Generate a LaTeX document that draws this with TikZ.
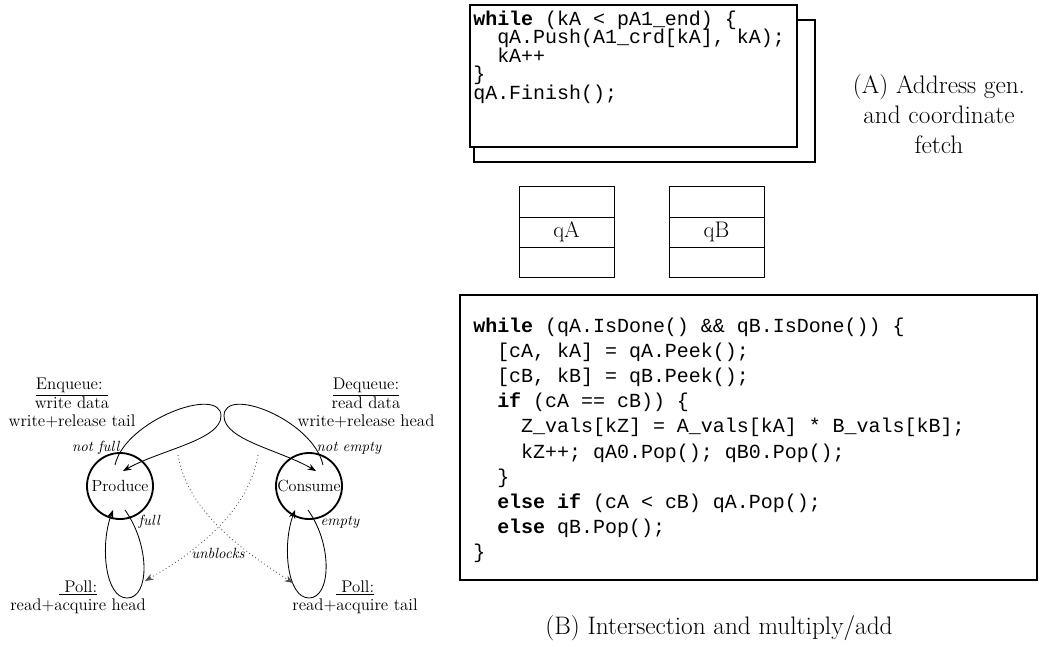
\documentclass[tikz,border=0pt]{standalone}
\usepackage{fontspec}
\setmonofont{Liberation Mono}
\usetikzlibrary{arrows.meta,calc}
\newcommand{\kw}[1]{\textbf{#1}}

\begin{document}
\begin{tikzpicture}[
    x=0.025cm, y=-0.025cm,
    stage/.style={circle, draw, line width=1.3pt, minimum size=1.65cm, inner sep=0pt, font=\fontsize{11.5}{12}\selectfont},
    note/.style={align=center, font=\fontsize{12}{12.5}\selectfont},
    cond/.style={font=\fontsize{10.5}{11}\selectfont\itshape, inner sep=1pt},
    flow/.style={-{Stealth[length=6pt,width=4.5pt]}, line width=0.6pt},
    wake/.style={-{Stealth[length=6pt,width=4.5pt]}, line width=0.6pt, dotted, draw=black!70},
    code/.style={font=\ttfamily\fontsize{14.2}{18}\selectfont, inner sep=0pt, anchor=base west},
    codeframe/.style={line width=1.3pt},
    queue/.style={line width=0.6pt},
    qname/.style={font=\fontsize{16}{18}\selectfont},
    caption/.style={align=center, font=\fontsize{18}{21.5}\selectfont}
]
    \useasboundingbox (0,0) rectangle (1044,646);

    % queue protocol
    \node[stage] (prod) at (120,486) {Produce};
    \node[stage] (cons) at (309,486) {Consume};
    \node[note] (enq) at (72,403) {\underline{Enqueue:~}\\write data\\write+release tail};
    \node[note] (deq) at (366,403) {\underline{Dequeue:}\\read data\\write+release head};
    \node[note] (pollp) at (78,597) {\underline{~Poll:}\\read+acquire head};
    \node[note] (pollc) at (355,597) {\underline{~Poll:}\\read+acquire tail};

    \coordinate (enqtip) at (221,416);
    \coordinate (deqtip) at (224,416);
    \draw[flow] ($(prod)+(-5,-21)$) .. controls (125,420) and (221,385) .. (enqtip)
        .. controls (221,440) and (160,450) .. ($(prod)+(3,-15)$);
    \draw[flow] ($(cons)+(14,-21)$) .. controls (313,420) and (224,385) .. (deqtip)
        .. controls (224,440) and (280,450) .. ($(cons)+(7,-15)$);
    \draw[flow] ($(prod)+(5,24)$) .. controls (150,545) and (150,598) .. (127,598)
        .. controls (105,598) and (100,545) .. ($(prod)+(-7,24)$);
    \draw[flow] ($(cons)+(-1,24)$) .. controls (333,545) and (331,598) .. (309,598)
        .. controls (287,598) and (282,545) .. ($(cons)+(-14,24)$);

    \coordinate (wakeA) at (178,455);
    \coordinate (wakeB) at (258,455);
    \draw[wake] (wakeA) .. controls (188,515) and (250,555) .. ($(cons)+(-16,97)$);
    \draw[wake] (wakeB) .. controls (248,515) and (190,555) .. ($(prod)+(25,95)$);

    \node[cond, anchor=east] (nfull) at (121,448) {not full};
    \node[cond, anchor=west] (nempty) at (315,448) {not empty};
    \node[cond, anchor=west] (full) at (137,522) {full};
    \node[cond, anchor=west] (empty) at (319,522) {empty};
    \node[cond] (unbl) at (218,553) {unblocks};

    % (A) address generation
    \draw[codeframe, fill=white] (474,20) rectangle (815,162);
    \draw[codeframe, fill=white] (470,5) rectangle (797,147);
    \foreach \ln [count=\i from 0] in {{\kw{while} (kA < pA1\_end) \{}, {~~qA.Push(A1\_crd[kA], kA);},
        {~~kA++}, {\}}, {qA.Finish();}}
        \node[code] (addr\i) at (473,25+18.5*\i) {\ln};
    \node[caption] (capA) at (939,114) {(A) Address gen.\\and coordinate\\fetch};

    % queues
    \foreach \x/\q in {519/qA, 669/qB} {
        \draw[queue] (\x,186) rectangle ++(95,91);
        \draw[queue] (\x,217) -- ++(95,0) (\x,247) -- ++(95,0);
        \node[qname] (\q) at (\x+47.5,232) {\q};
    }

    % (B) intersection
    \draw[codeframe] (460,295) rectangle (1037,580);
    \foreach \ln [count=\i from 0] in {
        {\kw{while} (qA.IsDone() \&\& qB.IsDone()) \{},
        {~~[cA, kA] = qA.Peek();},
        {~~[cB, kB] = qB.Peek();},
        {~~\kw{if} (cA == cB)) \{},
        {~~~~Z\_vals[kZ] = A\_vals[kA] * B\_vals[kB];},
        {~~~~kZ++; qA0.Pop(); qB0.Pop();},
        {~~\}},
        {~~\kw{else if} (cA < cB) qA.Pop();},
        {~~\kw{else} qB.Pop();},
        {\}}}
        \node[code] (isect\i) at (473,332+25.2*\i) {\ln};
    \node[caption] (capB) at (719,628) {(B) Intersection and multiply/add};
\end{tikzpicture}
\end{document}
